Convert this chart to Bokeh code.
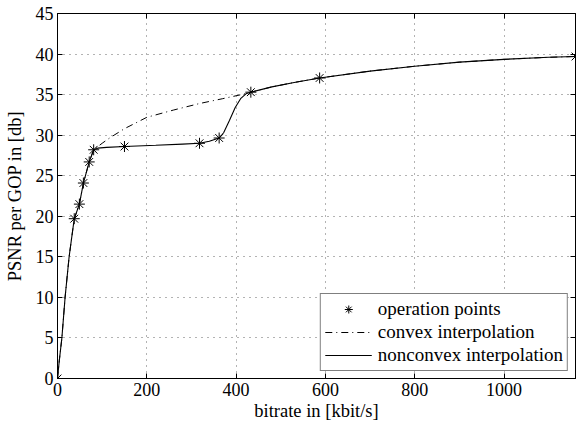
from bokeh.plotting import figure
from bokeh.models import Range1d, LinearAxis, Legend, LegendItem, FixedTicker
from bokeh.embed import file_html
from bokeh.resources import INLINE

# operation points
op_x = [0, 37.5, 49, 58, 71, 81, 150, 318, 362, 433, 587, 1160]
op_y = [0, 19.7, 21.5, 24.1, 26.7, 28.2, 28.6, 29.0, 29.65, 35.3, 37.05, 39.7]

# convex interpolation
cv_x = [0, 4, 9.8, 17, 26, 37.5, 49, 58, 71, 81, 100, 118, 150, 200, 260, 318, 370, 416, 433,
        480, 530, 587, 700, 800, 900, 1000, 1100, 1160]
cv_y = [0, 2.2, 5, 10, 15, 19.7, 21.5, 24.1, 26.7, 28.2, 29.0, 29.7, 30.8, 32.2, 33.1, 33.9, 34.5, 35.05, 35.3,
        35.95, 36.5, 37.05, 37.9, 38.5, 39.0, 39.35, 39.6, 39.7]

# nonconvex interpolation
nc_x = [0, 4, 9.8, 17, 26, 37.5, 49, 58, 71, 81, 90, 110, 150, 220, 280, 318, 340, 362, 372, 385, 398,
        410, 422, 433, 480, 530, 587, 700, 800, 900, 1000, 1100, 1160]
nc_y = [0, 2.2, 5, 10, 15, 19.7, 21.5, 24.1, 26.7, 28.2, 28.4, 28.5, 28.6, 28.75, 28.9, 29.0, 29.25, 29.65,
        30.3, 31.8, 33.4, 34.5, 35.1, 35.3, 35.95, 36.5, 37.05, 37.9, 38.5, 39.0, 39.35, 39.6, 39.7]

x_ticks = [0, 200, 400, 600, 800, 1000]
y_ticks = [0, 5, 10, 15, 20, 25, 30, 35, 40, 45]

FONT = "Liberation Serif"
FS = "18px"

p = figure(width=576, height=423, output_backend="svg", toolbar_location=None,
           x_range=Range1d(0, 1160), y_range=Range1d(0, 45),
           min_border_left=57, min_border_right=1, min_border_top=13, min_border_bottom=45)
p.background_fill_color = "white"
p.border_fill_color = "white"
p.outline_line_color = "black"
p.outline_line_width = 1

for ax in [p.xaxis[0], p.yaxis[0]]:
    ax.axis_line_color = "black"
    ax.major_tick_in = 5
    ax.major_tick_out = 0
    ax.minor_tick_line_color = None
    ax.major_tick_line_color = "black"
    ax.major_label_text_font = FONT
    ax.major_label_text_font_size = FS
    ax.major_label_text_color = "black"
    ax.axis_label_text_font = FONT
    ax.axis_label_text_font_size = "18.5px"
    ax.axis_label_text_font_style = "normal"
    ax.axis_label_text_color = "black"

p.xaxis[0].ticker = FixedTicker(ticks=x_ticks)
p.yaxis[0].ticker = FixedTicker(ticks=y_ticks)
p.xaxis[0].axis_label = "bitrate in [kbit/s]"
p.yaxis[0].axis_label = "PSNR per GOP in [db]"
p.xaxis[0].major_label_standoff = 4
p.xaxis[0].axis_label_standoff = 2
p.yaxis[0].major_label_standoff = 4
p.yaxis[0].axis_label_standoff = 8

top = LinearAxis(ticker=FixedTicker(ticks=x_ticks), major_tick_in=5, major_tick_out=0,
                 minor_tick_line_color=None, major_label_text_font_size="1px",
                 major_label_text_color=None, major_label_standoff=0, axis_line_color="black")
right = LinearAxis(ticker=FixedTicker(ticks=y_ticks), major_tick_in=5, major_tick_out=0,
                   minor_tick_line_color=None, major_label_text_font_size="1px",
                   major_label_text_color=None, major_label_standoff=0, axis_line_color="black")
p.add_layout(top, "above")
p.add_layout(right, "right")

for g in [p.xgrid[0], p.ygrid[0]]:
    g.grid_line_color = "black"
    g.grid_line_alpha = 0.6
    g.grid_line_dash = "1 5"
    g.grid_line_width = 1
p.xgrid[0].ticker = FixedTicker(ticks=x_ticks)
p.ygrid[0].ticker = FixedTicker(ticks=y_ticks)

r_cv = p.line(cv_x, cv_y, line_color="black", line_width=1, line_dash="7 4 1 4")
r_nc = p.line(nc_x, nc_y, line_color="black", line_width=1.1)
r_op = p.scatter(op_x, op_y, marker="asterisk", size=11, line_color="black", line_width=1)

legend = Legend(items=[LegendItem(label="operation points", renderers=[r_op]),
                       LegendItem(label="convex interpolation", renderers=[r_cv]),
                       LegendItem(label="nonconvex interpolation", renderers=[r_nc])],
                location="bottom_right")
legend.label_text_font = FONT
legend.label_text_font_size = "19px"
legend.label_text_color = "black"
legend.border_line_color = "black"
legend.border_line_width = 1
legend.background_fill_alpha = 1
legend.glyph_width = 47
legend.glyph_height = 20
legend.label_height = 20
legend.label_standoff = 6
legend.spacing = 1
legend.padding = 4
legend.margin = 7
p.add_layout(legend, "center")

open("out.html", "w").write(file_html(p, INLINE))
